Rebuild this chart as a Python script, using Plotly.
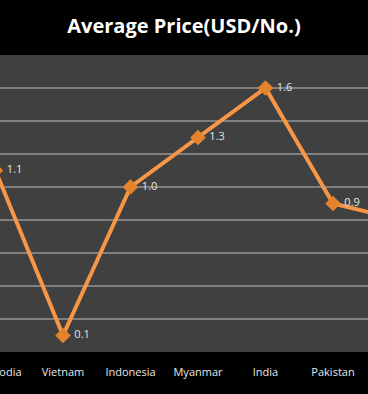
import plotly.graph_objects as go

categories = ["Cambodia", "Vietnam", "Indonesia", "Myanmar", "India", "Pakistan", "Thailand"]
prices = [1.1, 0.1, 1.0, 1.3, 1.6, 0.9, 0.8]
labels = [f" {v:.1f}" for v in prices]

# the reference is a crop of a wider chart: draw a wider figure and shift it left
EXTRA = 60
W = 368 + 2 * EXTRA

fig = go.Figure()
fig.add_trace(go.Scatter(
    x=categories, y=prices, mode="lines+markers+text",
    text=labels, textposition="middle right",
    textfont=dict(family="Open Sans", size=11, color="#e6e6e6"),
    line=dict(color="#f79646", width=4),
    marker=dict(symbol="diamond", size=12, color="#e5832c"),
    cliponaxis=False, showlegend=False,
))

fig.update_layout(
    width=W, height=394,
    margin=dict(l=0, r=0, t=55, b=42),
    paper_bgcolor="#000000", plot_bgcolor="#404040",
    title=dict(text="<b>Average Price(USD/No.)</b>", x=0.5, xanchor="center",
               y=0.935, yanchor="middle",
               font=dict(family="Open Sans", size=20, color="#ffffff")),
)
fig.update_xaxes(
    type="category", range=[-0.822, 6.407], showgrid=False, zeroline=False,
    tickfont=dict(family="Open Sans", size=11, color="#e6e6e6"),
    ticks="", ticklabelstandoff=12,
)
fig.update_yaxes(
    range=[0, 1.8], dtick=0.2, showgrid=True, gridcolor="#7f7f7f", gridwidth=1.5,
    showticklabels=False, zeroline=False,
)

post = (
    "document.documentElement.style.overflow='hidden';"
    "document.body.style.margin='0';document.body.style.overflow='hidden';"
    "document.body.style.background='#000';"
    f"var d=document.getElementById('{{plot_id}}');d.style.marginLeft='-{EXTRA}px';"
)
fig.write_html("out.html", post_script=post, config={"displayModeBar": False})
